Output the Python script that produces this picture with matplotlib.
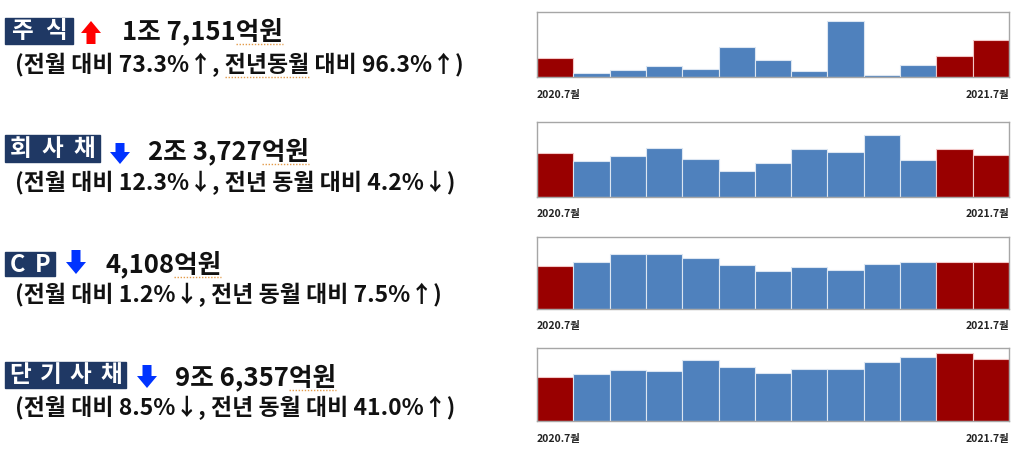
import matplotlib
matplotlib.use('Agg')
import matplotlib.pyplot as plt
from matplotlib.patches import Rectangle, FancyArrow

plt.rcParams['font.family'] = ['Noto Sans CJK KR', 'DejaVu Sans']

# Monthly issuance, 2020.7 ~ 2021.7 (unit: 억원)
stock = [8730, 2140, 3210, 5200, 3670, 13780, 8110, 2760, 25720, 920, 5820, 9897, 17151]
corp_bond = [24770, 20150, 23160, 27300, 21470, 14690, 18830, 26930, 25420, 34650, 20520, 27055, 23727]
cp = [3821, 4108, 4876, 4876, 4521, 3871, 3310, 3694, 3398, 3960, 4167, 4158, 4108]
short_bond = [68338, 72660, 79870, 77810, 94815, 83480, 74720, 80390, 81420, 91720, 99450, 105308, 96357]
series = [stock, corp_bond, cp, short_bond]
y_tops = [30140, 42370, 6324, 112850]

# bars highlighted in red: same month last year, previous month, this month
red_idx = [0, 11, 12]

tags = ['주식', '회사채', 'CP', '단기사채']
amounts = ['1조 7,151억원', '2조 3,727억원', '4,108억원', '9조 6,357억원']
details = ['(전월 대비 73.3%↑, 전년동월 대비 96.3%↑)',
           '(전월 대비 12.3%↓, 전년 동월 대비 4.2%↓)',
           '(전월 대비 1.2%↓, 전년 동월 대비 7.5%↑)',
           '(전월 대비 8.5%↓, 전년 동월 대비 41.0%↑)']
is_up = [True, False, False, False]
x_labels = ['2020.7월', '2021.7월']

W, H = 1024, 450
fig = plt.figure(figsize=(W / 100, H / 100), dpi=100)
fig.patch.set_facecolor('white')

# chart boxes in pixel units: (left, top, right, bottom)
boxes = [(537, 11.7, 1009, 77.3),
         (537, 121.7, 1009, 196.7),
         (537, 237.3, 1009, 308.7),
         (537, 348.3, 1009, 421.3)]
label_y = [95, 214, 326, 439]

BLUE = '#4f81bd'
RED = '#990000'

for k, vals in enumerate(series):
    l, t, r, b = boxes[k]
    ax = fig.add_axes([l / W, 1 - b / H, (r - l) / W, (b - t) / H])
    colors = [RED if i in red_idx else BLUE for i in range(len(vals))]
    edges = ['#f2c6c6' if i in red_idx else '#dce6f2' for i in range(len(vals))]
    ax.bar(range(len(vals)), vals, width=1.0, color=colors,
           edgecolor=edges, linewidth=0.8)
    ax.set_xlim(-0.5, len(vals) - 0.5)
    ax.set_ylim(0, y_tops[k])
    ax.set_xticks([])
    ax.set_yticks([])
    for s in ax.spines.values():
        s.set_color('#a6a6a6')
        s.set_linewidth(1.0)

# overlay for texts, tags and arrows in pixel units
ov = fig.add_axes([0, 0, 1, 1], zorder=-1)
ov.set_xlim(0, W)
ov.set_ylim(H, 0)
ov.axis('off')

for k in range(4):
    l, t, r, b = boxes[k]
    ov.text(l, label_y[k], x_labels[0], fontsize=7.5, fontweight='bold',
            ha='left', va='center', color='#222222')
    ov.text(r, label_y[k], x_labels[1], fontsize=7.5, fontweight='bold',
            ha='right', va='center', color='#222222')

# tag boxes: (x0, y0, x1, y1)
tag_boxes = [(5, 18, 73, 44), (5, 135, 100, 162), (5, 252, 55, 276), (5, 362, 126, 388)]
arrow_x = [91, 120, 76, 147]
arrow_y = [(44, 21), (143, 164), (250, 274), (365, 388)]
amount_x = [122, 148, 105, 175]
amount_y = [31, 151, 264, 377]
detail_y = [65, 183, 295, 408]

renderer = fig.canvas.get_renderer()


def text_px(s, size):
    # width of a string in pixels
    t = ov.text(0, 0, s, fontsize=size, fontweight='bold')
    w = t.get_window_extent(renderer).width
    t.remove()
    return w


def squiggle(x0, x1, y):
    ov.plot([x0, x1], [y, y], color='#e39b4a', lw=1.0, ls=(0, (1, 1.2)))


AMT_SIZE = 18.5
DET_SIZE = 16.5
for k in range(4):
    x0, y0, x1, y1 = tag_boxes[k]
    ov.add_patch(Rectangle((x0, y0), x1 - x0, y1 - y0, color='#1f3864'))
    n = len(tags[k])
    step = (x1 - x0) / n
    for i, ch in enumerate(tags[k]):
        ov.text(x0 + (i + 0.5) * step, (y0 + y1) / 2 + 0.5, ch, fontsize=17,
                fontweight='bold', color='white', ha='center', va='center')
    ys, ye = arrow_y[k]
    ov.add_patch(FancyArrow(arrow_x[k], ys, 0, ye - ys, width=9,
                            head_width=20, head_length=12,
                            length_includes_head=True,
                            color='#ff0000' if is_up[k] else '#0033ff', lw=0))
    ov.text(amount_x[k], amount_y[k], amounts[k], fontsize=AMT_SIZE,
            fontweight='bold', color='#111111', ha='left', va='center')
    full = text_px(amounts[k], AMT_SIZE)
    head = text_px(amounts[k][:-2], AMT_SIZE)
    squiggle(amount_x[k] + head, amount_x[k] + full, amount_y[k] + 13)
    ov.text(15, detail_y[k], details[k], fontsize=DET_SIZE,
            fontweight='bold', color='#111111', ha='left', va='center')

# spell-check mark under "전년동월" in the first line
d = details[0]
p0 = d.index('전년동월')
sx0 = 15 + text_px(d[:p0], DET_SIZE)
sx1 = 15 + text_px(d[:p0 + 4], DET_SIZE)
squiggle(sx0, sx1, detail_y[0] + 12)

fig.savefig('out.png', dpi=100)
